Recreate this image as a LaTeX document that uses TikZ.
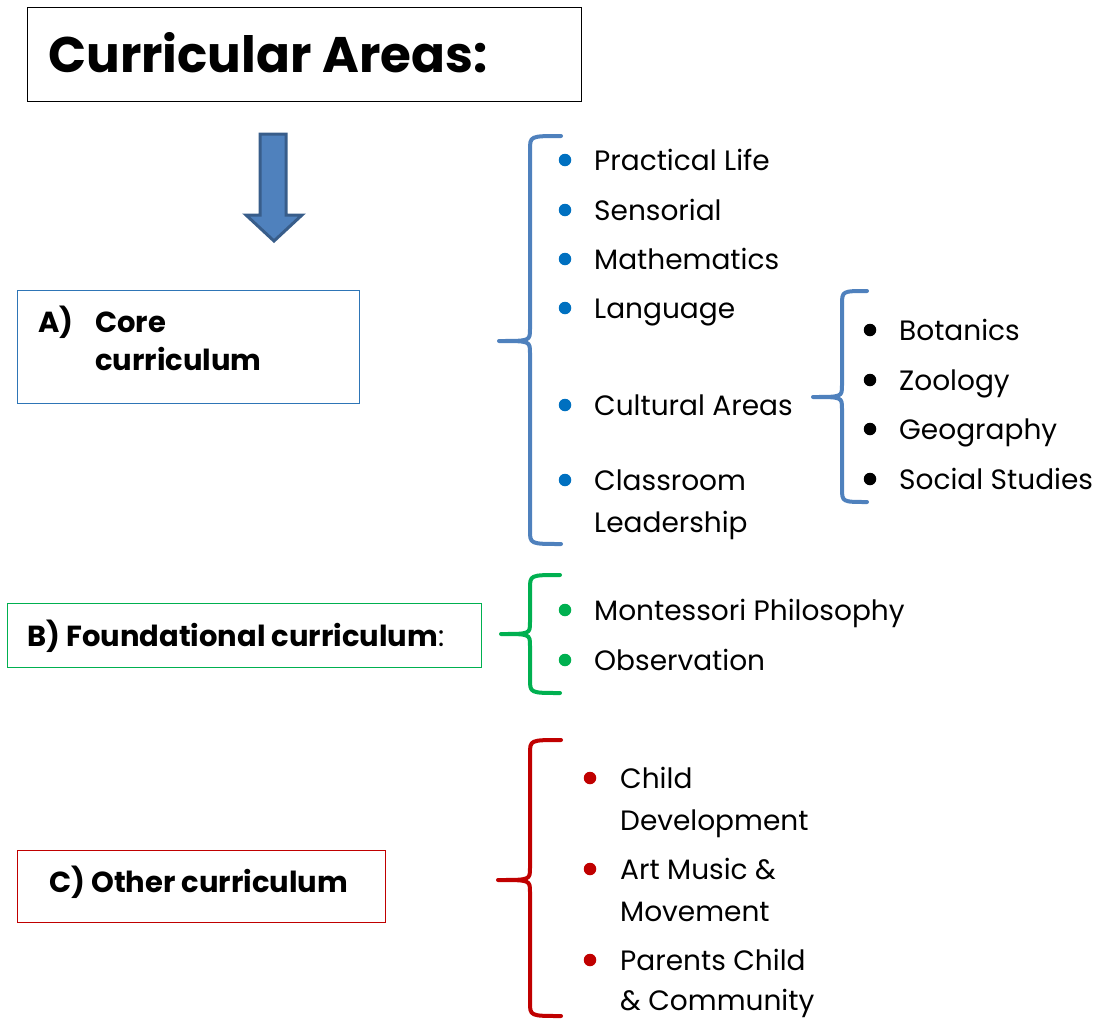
\documentclass[tikz,border=0pt]{standalone}
\usepackage{fontspec}
\setmainfont{Poppins}
\usetikzlibrary{positioning}

\definecolor{braceblue}{HTML}{4F81BD}
\definecolor{dotblue}{HTML}{0070C0}
\definecolor{arrowedge}{HTML}{385D8A}
\definecolor{boxblue}{HTML}{2E75B6}
\definecolor{foundgreen}{HTML}{00B050}
\definecolor{otherred}{HTML}{C00000}

% curly brace: end x, spine x, tip x, top y, tip y, bottom y
\newcommand{\bracepath}[6]{%
  (#1,#4) .. controls (#2,#4) .. (#2,#4+14) -- (#2,#5-12)
  .. controls (#2,#5) .. (#3,#5) .. controls (#2,#5) .. (#2,#5+12)
  -- (#2,#6-14) .. controls (#2,#6) .. (#1,#6)}

\begin{document}
\begin{tikzpicture}
[x=1pt,y=-1pt,inner sep=0pt,
  item/.style={anchor=base west,font=\fontsize{28}{33}\selectfont},
  head/.style={anchor=base west,font=\fontsize{29}{34}\selectfont\bfseries},
  dot/.style={circle,minimum size=12.5pt,fill=#1},
  box/.style={draw=#1,line width=1.2pt,anchor=north west},
  curly/.style={draw=#1,line width=4pt,line cap=round,line join=round}]
\useasboundingbox (0,0) rectangle (1095,1018);
%% title and arrow
\node[box=black,minimum width=554pt,minimum height=94pt] (titlebox) at (27,7) {};
\node[anchor=base west,font=\fontsize{50}{56}\selectfont\bfseries] (title) at (48,72) {Curricular Areas:};
\draw[fill=braceblue,draw=arrowedge,line width=3pt,line join=miter]
  (260,134) -- (286,134) -- (286,215) -- (302,215) -- (274,241)
  -- (246,215) -- (260,215) -- cycle;
%% A) core curriculum
\node[box=boxblue,minimum width=342pt,minimum height=113pt] (corebox) at (17,290) {};
\node[head] (coreA) at (38,332) {A)};
\node[head] (core1) at (95,332) {Core};
\node[head] (core2) at (95,370) {curriculum};
\draw[curly=braceblue] \bracepath{561}{530}{499}{136}{341}{544};
\node[dot=dotblue] (d1) at (565,160) {};
\node[item] (prac) at (594,170) {Practical Life};
\node[dot=dotblue] (d2) at (565,210) {};
\node[item] (sens) at (594,220) {Sensorial};
\node[dot=dotblue] (d3) at (565,259) {};
\node[item] (math) at (594,269) {Mathematics};
\node[dot=dotblue] (d4) at (565,308) {};
\node[item] (lang) at (594,318) {Language};
\node[dot=dotblue] (d5) at (565,405) {};
\node[item] (cult) at (594,415) {Cultural Areas};
\node[dot=dotblue] (d6) at (565,480) {};
\node[item] (class1) at (594,490) {Classroom};
\node[item] (class2) at (594,532) {Leadership};
%% cultural areas
\draw[curly=braceblue] \bracepath{867}{842}{813}{291}{397}{502};
\node[dot=black] (e1) at (870,330) {};
\node[item] (bota) at (899,340) {Botanics};
\node[dot=black] (e2) at (870,380) {};
\node[item] (zool) at (899,390) {Zoology};
\node[dot=black] (e3) at (870,429) {};
\node[item] (geog) at (899,439) {Geography};
\node[dot=black] (e4) at (870,479) {};
\node[item] (soci) at (899,489) {Social Studies};
%% B) foundational curriculum
\node[box=foundgreen,minimum width=474pt,minimum height=64pt] (foundbox) at (7,603) {};
\node[head] (found) at (27,646) {B) Foundational curriculum\mdseries:};
\draw[curly=foundgreen] \bracepath{560}{530}{501}{575}{634}{693};
\node[dot=foundgreen] (f1) at (565,610) {};
\node[item] (mont) at (594,620) {Montessori Philosophy};
\node[dot=foundgreen] (f2) at (565,660) {};
\node[item] (obse) at (594,670) {Observation};
%% C) other curriculum
\node[box=otherred,minimum width=368pt,minimum height=72pt] (otherbox) at (17,850) {};
\node[head] (other) at (49,892) {C) Other curriculum};
\draw[curly=otherred] \bracepath{561}{530}{498}{740}{880}{1016};
\node[dot=otherred] (g1) at (590,778) {};
\node[item] (chil1) at (620,788) {Child};
\node[item] (chil2) at (620,830) {Development};
\node[dot=otherred] (g2) at (590,869) {};
\node[item] (art1) at (620,879) {Art Music \&};
\node[item] (art2) at (620,921) {Movement};
\node[dot=otherred] (g3) at (590,960) {};
\node[item] (par1) at (620,970) {Parents Child};
\node[item] (par2) at (620,1010) {\& Community};
\end{tikzpicture}
\end{document}
